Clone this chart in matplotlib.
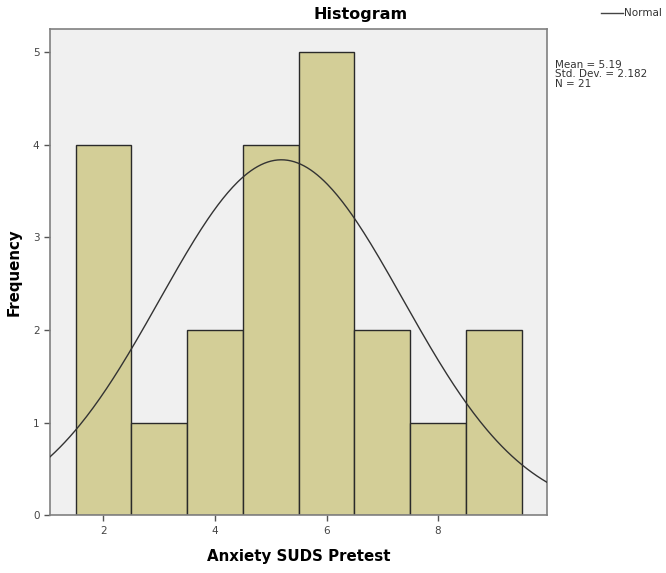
import matplotlib.pyplot as plt
import numpy as np

# bin centers (scores) and their frequencies
scores = [2, 3, 4, 5, 6, 7, 8, 9]
counts = [4, 1, 2, 4, 5, 2, 1, 2]

vals = np.repeat(scores, counts)
n = len(vals)
mean = vals.mean()
sd = vals.std(ddof=1)

fig = plt.figure(figsize=(6.66, 5.73), dpi=100)
ax = fig.add_axes([0.075, 0.101, 0.746, 0.848])
ax.set_facecolor('#f0f0f0')

ax.bar(scores, counts, width=1.0, color='#d3ce97', edgecolor='#2a2a2a', linewidth=1.0, zorder=2)

# normal curve scaled to counts (bin width 1)
x = np.linspace(1.04, 9.95, 300)
y = n / (sd * np.sqrt(2 * np.pi)) * np.exp(-0.5 * ((x - mean) / sd) ** 2)
ax.plot(x, y, color='#333333', linewidth=1.0, zorder=3)

ax.set_xlim(1.04, 9.95)
ax.set_ylim(0, 5.25)
ax.set_xticks([2, 4, 6, 8])
ax.set_yticks([0, 1, 2, 3, 4, 5])
ax.tick_params(direction='out', length=4, width=1, colors='#555555', labelsize=7.5, labelcolor='#444444')
for s in ax.spines.values():
    s.set_color('#808080')
    s.set_linewidth(1.2)

fig.text(0.542, 0.975, 'Histogram', fontsize=11.5, fontweight='bold', ha='center', va='center')
ax.set_xlabel('Anxiety SUDS Pretest', fontsize=10.8, fontweight='bold', labelpad=10)
ax.set_ylabel('Frequency', fontsize=10.8, fontweight='bold', labelpad=8)

fig.text(0.834, 0.896, 'Mean = {:.2f}\nStd. Dev. = {:.3f}\nN = {}'.format(mean, sd, n),
         fontsize=7.5, family='DejaVu Sans', color='#333333', va='top', linespacing=0.95)

# legend entry
fig.add_artist(plt.Line2D([0.902, 0.935], [0.977, 0.977], color='#444444', linewidth=1.0))
fig.text(0.937, 0.977, 'Normal', fontsize=7.5, family='DejaVu Sans', color='#333333', va='center')

fig.savefig('out.png')
